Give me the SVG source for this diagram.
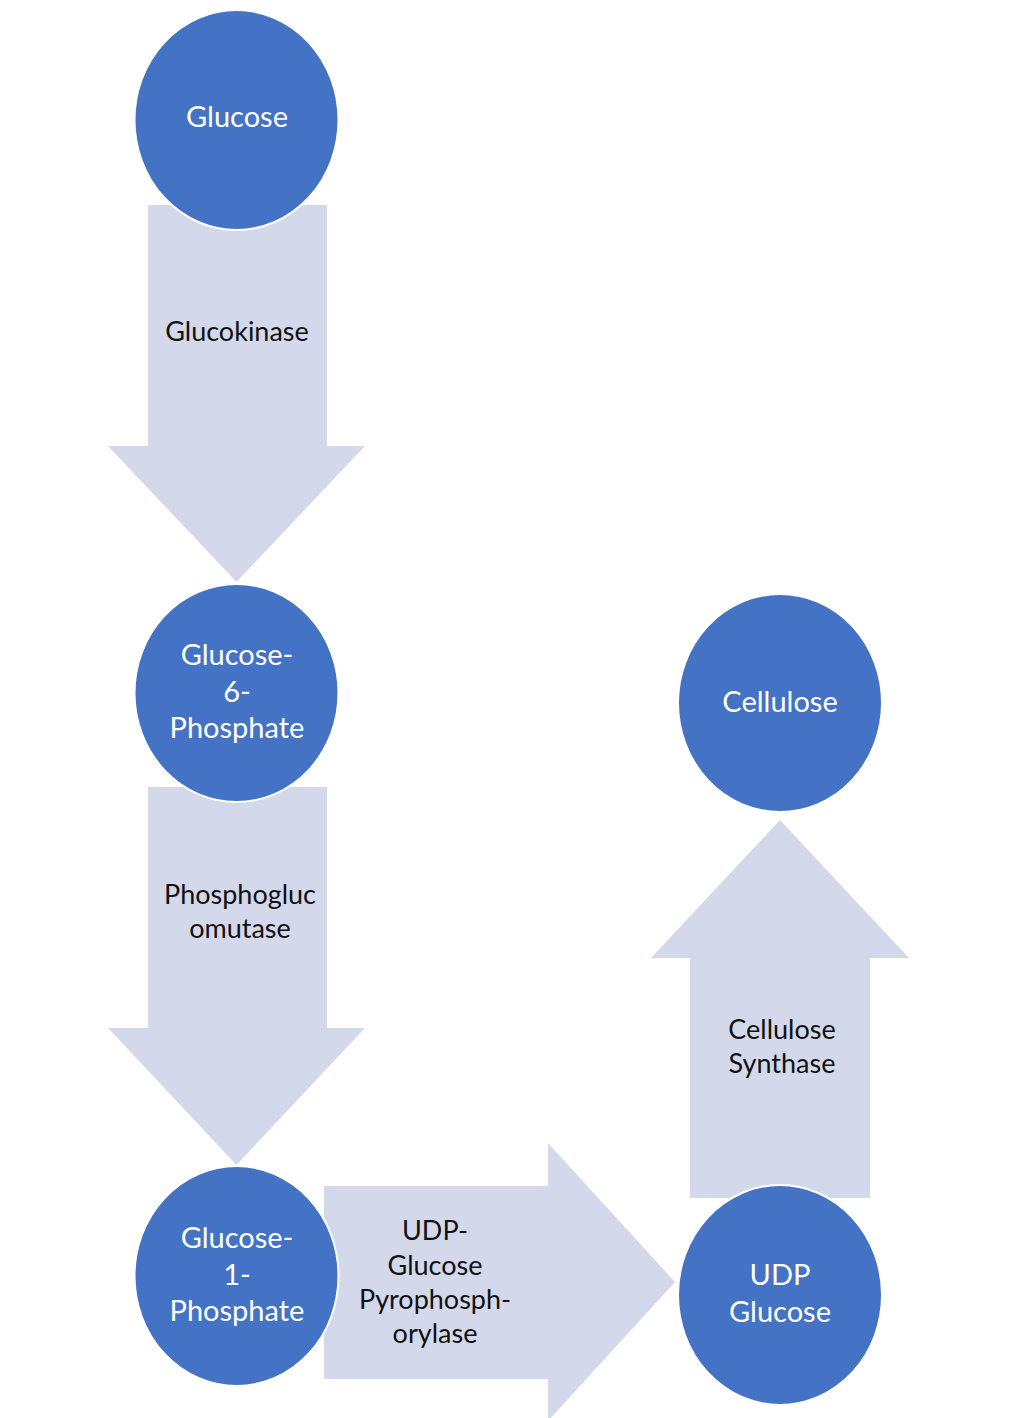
<svg xmlns="http://www.w3.org/2000/svg" width="1033" height="1418" viewBox="0 0 1033 1418">
<style>
.bg{fill:#ffffff}
.arrow{fill:#D3D9EB}
.node{fill:#4472C4;stroke:#ffffff;stroke-width:2}
.nt{font-family:Lato,"Liberation Sans",sans-serif;font-size:29px;fill:#ffffff;text-anchor:middle}
.at{font-family:Lato,"Liberation Sans",sans-serif;font-size:27px;fill:#111111;text-anchor:middle}
</style>
<rect class="bg" x="0" y="0" width="1033" height="1418"/>
<g id="connectors">
  <g id="arrow-glucokinase">
    <polygon class="arrow" points="148,205 327,205 327,446 365,446 236.5,582 108,446 148,446"/>
    <text class="at" x="237" y="341">Glucokinase</text>
  </g>
  <g id="arrow-phosphoglucomutase">
    <polygon class="arrow" points="148,787 327,787 327,1028 365,1028 236.5,1165 108,1028 148,1028"/>
    <text class="at" x="240" y="904">Phosphogluc</text>
    <text class="at" x="240" y="938">omutase</text>
  </g>
  <g id="arrow-udpgp">
    <polygon class="arrow" points="324,1186 548,1186 548,1143 675,1282 548,1421 548,1379 324,1379"/>
    <text class="at" x="435" y="1240">UDP-</text>
    <text class="at" x="435" y="1275">Glucose</text>
    <text class="at" x="435" y="1309">Pyrophosph-</text>
    <text class="at" x="435" y="1343">orylase</text>
  </g>
  <g id="arrow-cellulose-synthase">
    <polygon class="arrow" points="690,1198 870,1198 870,958 909,958 780,820 651,958 690,958"/>
    <text class="at" x="782" y="1039">Cellulose</text>
    <text class="at" x="782" y="1073">Synthase</text>
  </g>
</g>
<g id="node-glucose">
  <ellipse class="node" cx="236.5" cy="120" rx="102" ry="110"/>
  <text class="nt" x="237" y="127">Glucose</text>
</g>
<g id="node-g6p">
  <ellipse class="node" cx="236.5" cy="693" rx="102" ry="109"/>
  <text class="nt" x="237" y="665">Glucose-</text>
  <text class="nt" x="237" y="702">6-</text>
  <text class="nt" x="237" y="738">Phosphate</text>
</g>
<g id="node-g1p">
  <ellipse class="node" cx="236.5" cy="1276" rx="102" ry="110"/>
  <text class="nt" x="237" y="1248">Glucose-</text>
  <text class="nt" x="237" y="1285">1-</text>
  <text class="nt" x="237" y="1321">Phosphate</text>
</g>
<g id="node-cellulose">
  <ellipse class="node" cx="780" cy="703" rx="102" ry="109"/>
  <text class="nt" x="780" y="712">Cellulose</text>
</g>
<g id="node-udp-glucose">
  <ellipse class="node" cx="780" cy="1295" rx="102" ry="110"/>
  <text class="nt" x="780" y="1285">UDP</text>
  <text class="nt" x="780" y="1322">Glucose</text>
</g>
</svg>
